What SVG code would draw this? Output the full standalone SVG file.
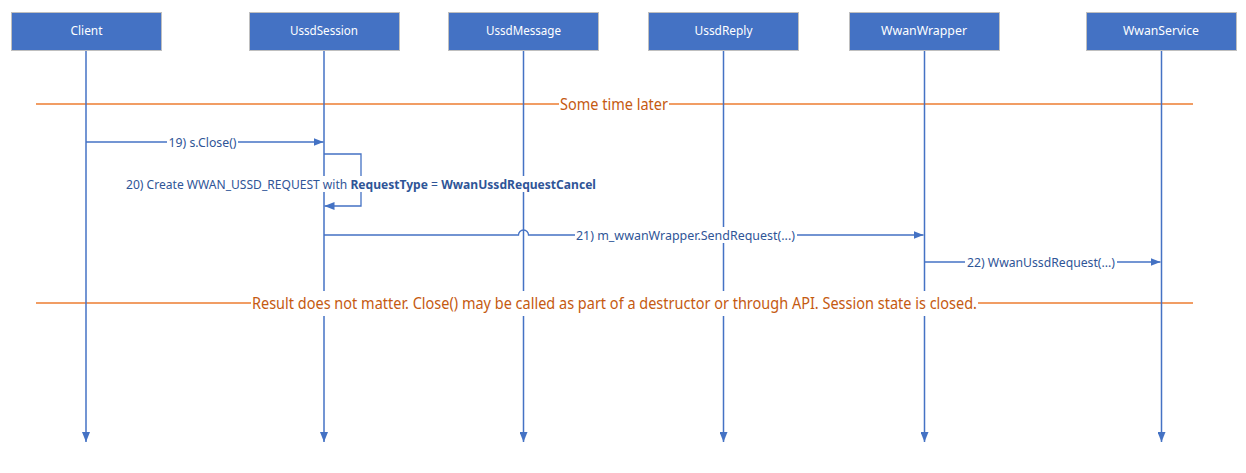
<svg xmlns="http://www.w3.org/2000/svg" width="1246" height="473" viewBox="0 0 1246 473">
<style>
.box{fill:#4472C4;stroke:#BFBFBF;stroke-width:1}
.bt{font-family:"Noto Sans","Open Sans",sans-serif;font-size:13px;fill:#FFFFFF;text-anchor:middle}
.life{stroke:#4472C4;stroke-width:1.5;fill:none}
.msg{stroke:#4472C4;stroke-width:1.3;fill:none}
.sep{stroke:#ED7D31;stroke-width:1.3;fill:none}
.mask{fill:#FFFFFF}
.lt{font-family:"Noto Sans","Open Sans",sans-serif;font-size:13px;fill:#2F5597;text-anchor:middle}
.l20{font-family:"Noto Sans","Open Sans",sans-serif;font-size:12.07px;fill:#2F5597;text-anchor:middle}
.b{font-weight:bold}
.ot{font-family:"Noto Sans","Open Sans",sans-serif;font-size:15.5px;fill:#C55A11;text-anchor:middle}
</style>
<defs>
<marker id="ah" viewBox="0 0 10 8" refX="10" refY="4" markerWidth="10" markerHeight="8" markerUnits="userSpaceOnUse" orient="auto">
<path d="M0,0 L10,4 L0,8 Z" fill="#4472C4"/>
</marker>
</defs>
<rect width="1246" height="473" fill="#FFFFFF"/>
<g id="separators">
<line class="sep" x1="36" y1="104" x2="1193" y2="104"/>
<line class="sep" x1="36" y1="303" x2="1193" y2="303"/>
</g>
<g id="client">
<rect class="box" x="11.5" y="12.5" width="150" height="38"/>
<text class="bt" x="86.5" y="35" textLength="32" lengthAdjust="spacingAndGlyphs">Client</text>
<line class="life" x1="86" y1="51" x2="86" y2="442" marker-end="url(#ah)"/>
</g>
<g id="ussdsession">
<rect class="box" x="249.5" y="12.5" width="150" height="38"/>
<text class="bt" x="324" y="35" textLength="68" lengthAdjust="spacingAndGlyphs">UssdSession</text>
<line class="life" x1="324" y1="51" x2="324" y2="442" marker-end="url(#ah)"/>
</g>
<g id="ussdmessage">
<rect class="box" x="448.5" y="12.5" width="150" height="38"/>
<text class="bt" x="523.5" y="35" textLength="75" lengthAdjust="spacingAndGlyphs">UssdMessage</text>
<line class="life" x1="523.5" y1="51" x2="523.5" y2="442" marker-end="url(#ah)"/>
</g>
<g id="ussdreply">
<rect class="box" x="648.5" y="12.5" width="150" height="38"/>
<text class="bt" x="723.5" y="35" textLength="58" lengthAdjust="spacingAndGlyphs">UssdReply</text>
<line class="life" x1="723.5" y1="51" x2="723.5" y2="442" marker-end="url(#ah)"/>
</g>
<g id="wwanwrapper">
<rect class="box" x="849.5" y="12.5" width="150" height="38"/>
<text class="bt" x="924" y="35" textLength="86" lengthAdjust="spacingAndGlyphs">WwanWrapper</text>
<line class="life" x1="924.5" y1="51" x2="924.5" y2="442" marker-end="url(#ah)"/>
</g>
<g id="wwanservice">
<rect class="box" x="1086.5" y="12.5" width="150" height="38"/>
<text class="bt" x="1161" y="35" textLength="76" lengthAdjust="spacingAndGlyphs">WwanService</text>
<line class="life" x1="1161.5" y1="51" x2="1161.5" y2="442" marker-end="url(#ah)"/>
</g>
<g id="connectors">
<line class="msg" x1="86" y1="142" x2="323.5" y2="142" marker-end="url(#ah)"/>
<polyline class="msg" points="324,154 361,154 361,206 324.5,206" marker-end="url(#ah)"/>
<path class="msg" d="M324,235 H518.5 A5,5 0 0 1 528.5,235 H923.5" marker-end="url(#ah)"/>
<line class="msg" x1="924.5" y1="262" x2="1160.5" y2="262" marker-end="url(#ah)"/>
</g>
<g id="labels">
<rect class="mask" x="559" y="92" width="110" height="24"/>
<text class="ot" x="614" y="109.5" textLength="108" lengthAdjust="spacingAndGlyphs">Some time later</text>
<rect class="mask" x="251" y="291" width="727" height="25"/>
<text class="ot" x="614.5" y="308.5" textLength="725" lengthAdjust="spacingAndGlyphs">Result does not matter. Close() may be called as part of a destructor or through API. Session state is closed.</text>
<rect class="mask" x="167" y="134" width="71" height="16"/>
<text class="lt" x="202.5" y="146.5" textLength="68" lengthAdjust="spacingAndGlyphs">19) s.Close()</text>
<rect class="mask" x="125" y="176" width="472" height="16"/>
<text class="l20" x="361" y="188.5">20) Create WWAN_USSD_REQUEST with <tspan class="b">RequestType</tspan> = <tspan class="b">WwanUssdRequestCancel</tspan></text>
<rect class="mask" x="575" y="227" width="222" height="16"/>
<text class="lt" x="685.5" y="239.5" textLength="219" lengthAdjust="spacingAndGlyphs">21) m_wwanWrapper.SendRequest(...)</text>
<rect class="mask" x="965" y="254" width="152" height="16"/>
<text class="lt" x="1041" y="266.5" textLength="148" lengthAdjust="spacingAndGlyphs">22) WwanUssdRequest(...)</text>
</g>
</svg>
